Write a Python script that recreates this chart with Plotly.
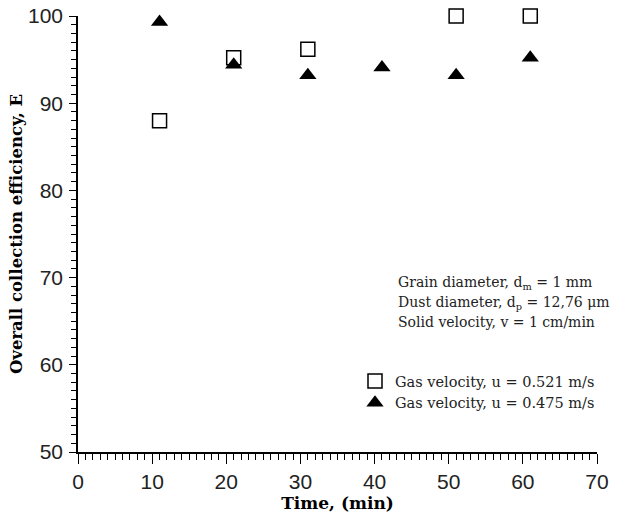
import plotly.graph_objects as go

time_sq = [11, 21, 31, 51, 61]
eff_sq = [88.0, 95.2, 96.2, 100.0, 100.0]
time_tri = [11, 21, 31, 41, 51, 61]
eff_tri = [99.3, 94.4, 93.2, 94.1, 93.2, 95.2]

x_ticks = [0, 10, 20, 30, 40, 50, 60, 70]
y_ticks = [50, 60, 70, 80, 90, 100]

serif = "DejaVu Serif, Liberation Serif, serif"
sans = "Liberation Sans Narrow, Liberation Sans, sans-serif"

fig = go.Figure()
fig.add_trace(go.Scatter(x=time_sq, y=eff_sq, mode="markers", cliponaxis=False,
                         name="Gas velocity, u = 0.521 m/s",
                         marker=dict(symbol="square-open", size=14, color="black",
                                     line=dict(width=1.5, color="black"))))
fig.add_trace(go.Scatter(x=time_tri, y=eff_tri, mode="markers", cliponaxis=False,
                         name="Gas velocity, u = 0.475 m/s",
                         marker=dict(symbol="triangle-up", size=15, color="black")))

common = dict(showgrid=False, zeroline=False, showline=True, linecolor="black",
              linewidth=1.5, tickwidth=1.2, tickcolor="black", ticks="outside",
              automargin=False,
              tickfont=dict(family=sans, size=21, color="#222"))

fig.update_xaxes(range=[0, 70], tickvals=x_ticks, ticklen=10, **common,
                 minor=dict(ticks="outside", ticklen=6, tickwidth=1, tickcolor="black", dtick=1),
                 title=dict(text="<b>Time, (min)</b>", font=dict(family=serif, size=17, color="black"),
                            standoff=3))
fig.update_yaxes(range=[50, 100], tickvals=y_ticks, ticklen=7, **common,
                 ticklabelstandoff=2,
                 minor=dict(ticks="outside", ticklen=5, tickwidth=1, tickcolor="black", dtick=1),
                 title=dict(text="<b>Overall collection efficiency, E</b>",
                            font=dict(family=serif, size=16.5, color="black"), standoff=1))

notes = ["Grain diameter, d<sub>m</sub> = 1 mm",
         "Dust diameter, d<sub>p</sub> = 12,76 μm",
         "Solid velocity, v = 1 cm/min"]
for i, t in enumerate(notes):
    fig.add_annotation(text=t, xref="paper", yref="paper", x=(396 - 78) / 519,
                       y=1 - (283 + i * 19.5 - 16) / 436, xanchor="left", yanchor="middle",
                       showarrow=False, font=dict(family=serif, size=14, color="#222"))

fig.update_layout(width=619, height=518, margin=dict(l=78, r=22, t=16, b=66),
                  template="none",
                  plot_bgcolor="white", paper_bgcolor="white",
                  showlegend=True,
                  legend=dict(x=(355 - 78) / 519, y=1 - (365 - 16) / 436, xanchor="left", yanchor="top",
                              font=dict(family=serif, size=14.5, color="#222"),
                              bgcolor="rgba(0,0,0,0)", itemwidth=30, tracegroupgap=0))

fig.write_html("out.html", post_script="document.body.style.margin='0';",
               config={"displayModeBar": False})
